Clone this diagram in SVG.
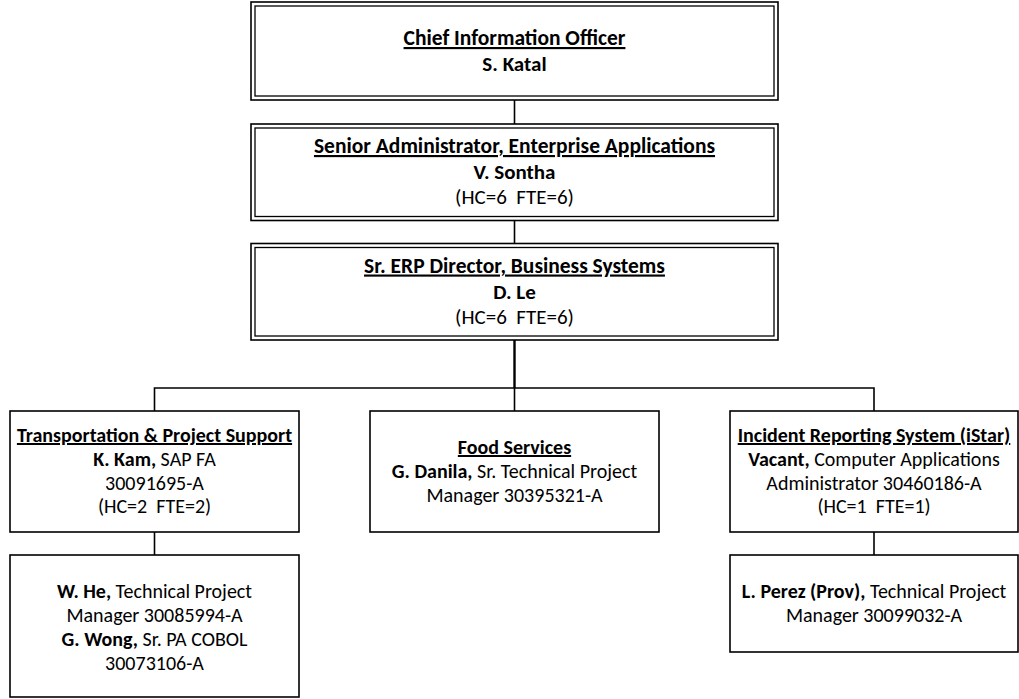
<svg xmlns="http://www.w3.org/2000/svg" width="1019" height="699" viewBox="0 0 1019 699">
<style>
.t{font-family:Carlito,Lato,'Liberation Sans',sans-serif;font-size:20px;fill:#000;text-anchor:middle;white-space:pre}
.top{font-size:21px}
.tt{font-size:21.5px}
.b{font-weight:bold}
.u{text-decoration:underline}
.box{fill:#fff;stroke:#000;stroke-width:1.6}
.in{fill:none;stroke:#000;stroke-width:1.3}
.conn{stroke:#000;stroke-width:1.6;fill:none}
.thick{stroke:#000;stroke-width:2.4;fill:none}
</style>
<rect width="1019" height="699" fill="#fff"/>
<g id="connectors">
<line class="conn" x1="514.5" y1="100" x2="514.5" y2="124"/>
<line class="conn" x1="514.5" y1="220.5" x2="514.5" y2="243.5"/>
<line class="thick" x1="514.5" y1="340" x2="514.5" y2="388"/>
<polyline class="conn" points="154.5,411 154.5,388 874,388 874,411"/>
<line class="conn" x1="514.5" y1="388" x2="514.5" y2="411"/>
<line class="conn" x1="154.5" y1="532" x2="154.5" y2="555"/>
<line class="conn" x1="874" y1="532" x2="874" y2="555"/>
</g>
<g id="cio">
<rect class="box" x="251" y="2" width="527" height="98"/>
<rect class="in" x="255" y="6" width="519" height="90"/>
<text class="t tt b u" x="514.5" y="45">Chief Information Officer</text>
<text class="t top b" x="514.5" y="71">S. Katal</text>
</g>
<g id="senior-admin">
<rect class="box" x="251" y="124" width="527" height="96.5"/>
<rect class="in" x="255" y="128" width="519" height="88.5"/>
<text class="t tt b u" x="514.5" y="153">Senior Administrator, Enterprise Applications</text>
<text class="t top b" x="514.5" y="179">V. Sontha</text>
<text class="t top" x="514.5" y="204" xml:space="preserve">(HC=6  FTE=6)</text>
</g>
<g id="erp-director">
<rect class="box" x="251" y="243.5" width="527" height="96.5"/>
<rect class="in" x="255" y="247.5" width="519" height="88.5"/>
<text class="t tt b u" x="514.5" y="272.5">Sr. ERP Director, Business Systems</text>
<text class="t top b" x="514.5" y="298.5">D. Le</text>
<text class="t top" x="514.5" y="323.5" xml:space="preserve">(HC=6  FTE=6)</text>
</g>
<g id="transportation">
<rect class="box" x="10" y="411" width="289" height="121"/>
<text class="t b u" x="154.5" y="442">Transportation &amp; Project Support</text>
<text class="t" x="154.5" y="466"><tspan class="b">K. Kam,</tspan> SAP FA</text>
<text class="t" x="154.5" y="490">30091695-A</text>
<text class="t" x="154.5" y="513" xml:space="preserve">(HC=2  FTE=2)</text>
</g>
<g id="food-services">
<rect class="box" x="370" y="411" width="289" height="121"/>
<text class="t b u" x="514.5" y="454">Food Services</text>
<text class="t" x="514.5" y="478"><tspan class="b">G. Danila,</tspan> Sr. Technical Project</text>
<text class="t" x="514.5" y="502">Manager 30395321-A</text>
</g>
<g id="istar">
<rect class="box" x="730" y="411" width="288" height="121"/>
<text class="t b u" x="874" y="442">Incident Reporting System (iStar)</text>
<text class="t" x="874" y="466"><tspan class="b">Vacant,</tspan> Computer Applications</text>
<text class="t" x="874" y="490">Administrator 30460186-A</text>
<text class="t" x="874" y="513" xml:space="preserve">(HC=1  FTE=1)</text>
</g>
<g id="transportation-staff">
<rect class="box" x="10" y="555" width="289" height="142"/>
<text class="t" x="154.5" y="598"><tspan class="b">W. He,</tspan> Technical Project</text>
<text class="t" x="154.5" y="622">Manager 30085994-A</text>
<text class="t" x="154.5" y="646"><tspan class="b">G. Wong,</tspan> Sr. PA COBOL</text>
<text class="t" x="154.5" y="670">30073106-A</text>
</g>
<g id="istar-staff">
<rect class="box" x="730" y="555" width="288" height="97"/>
<text class="t" x="874" y="598"><tspan class="b">L. Perez (Prov),</tspan> Technical Project</text>
<text class="t" x="874" y="622">Manager 30099032-A</text>
</g>
</svg>
